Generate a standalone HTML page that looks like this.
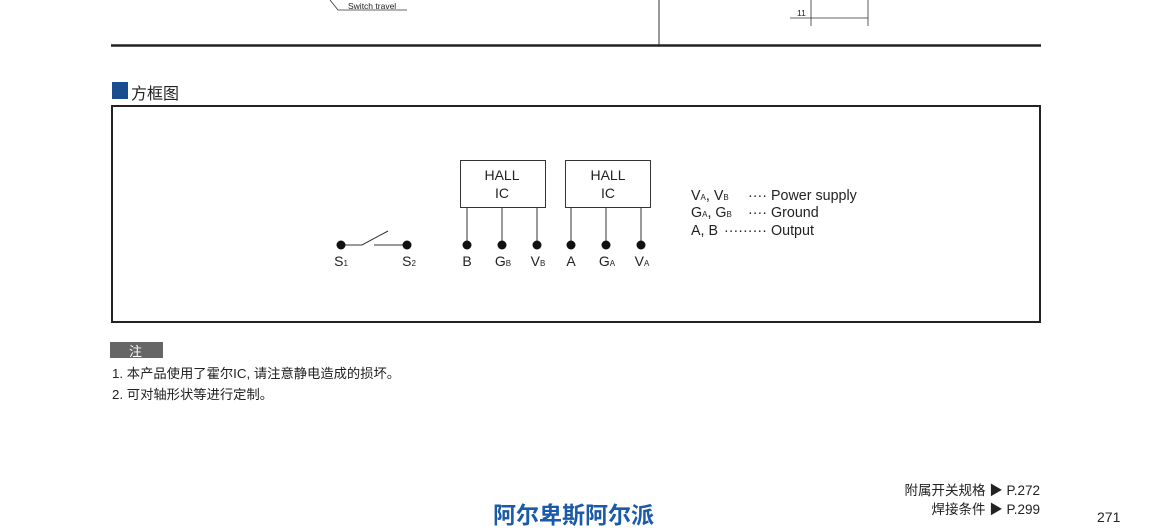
<!DOCTYPE html>
<html><head><meta charset="utf-8"><style>
body{margin:0;width:1150px;height:529px;background:#fff;overflow:hidden;position:relative;font-family:"Liberation Sans","Noto Sans CJK SC",sans-serif;color:#222}
.a{position:absolute;white-space:nowrap}
</style></head><body>
<svg class="a" style="left:0;top:0" width="1150" height="529">
<g stroke="#333" fill="none">
<path d="M330 0 L338 10 L407 10" stroke-width="0.8"/>
<line x1="659" y1="0" x2="659" y2="45" stroke-width="1"/>
<line x1="790" y1="18" x2="868" y2="18" stroke-width="0.8"/>
<line x1="811" y1="0" x2="811" y2="26" stroke-width="0.8"/>
<line x1="868" y1="0" x2="868" y2="26" stroke-width="0.8"/>
<line x1="111" y1="45.5" x2="1041" y2="45.5" stroke="#222" stroke-width="2.5"/>
<rect x="112" y="106" width="928" height="216" stroke="#222" stroke-width="2"/>
<rect x="460.5" y="160.5" width="85" height="47" stroke-width="1"/>
<rect x="565.5" y="160.5" width="85" height="47" stroke-width="1"/>
<path d="M467 207V245M502 207V245M537 207V245M571 207V245M606 207V245M641 207V245" stroke-width="1"/>
<path d="M341 245H362L388 231M374 245H407" stroke-width="1"/>
</g>
<g fill="#111">
<circle cx="341" cy="245" r="4.5"/><circle cx="407" cy="245" r="4.5"/>
<circle cx="467" cy="245" r="4.5"/><circle cx="502" cy="245" r="4.5"/><circle cx="537" cy="245" r="4.5"/>
<circle cx="571" cy="245" r="4.5"/><circle cx="606" cy="245" r="4.5"/><circle cx="641" cy="245" r="4.5"/>
</g>
<rect x="112" y="82" width="16" height="17" fill="#1a4d8f"/>
<rect x="110" y="342" width="53" height="16" fill="#666"/>
<g font-family="Liberation Sans,sans-serif" fill="#222">
<text x="348" y="9" font-size="8.5">Switch travel</text>
<text x="797" y="16" font-size="8.5">11</text>
<g font-size="14" text-anchor="middle">
<text x="502" y="180">HALL</text><text x="502" y="198">IC</text>
<text x="608" y="180">HALL</text><text x="608" y="198">IC</text>
<text x="341" y="266">S<tspan font-size="8">1</tspan></text>
<text x="409" y="266">S<tspan font-size="8">2</tspan></text>
<text x="467" y="266">B</text>
<text x="503" y="266">G<tspan font-size="8">B</tspan></text>
<text x="538" y="266">V<tspan font-size="8">B</tspan></text>
<text x="571" y="266">A</text>
<text x="607" y="266">G<tspan font-size="8">A</tspan></text>
<text x="642" y="266">V<tspan font-size="8">A</tspan></text>
</g>
<g font-size="14.3">
<text x="691" y="200">V<tspan font-size="8">A</tspan>, V<tspan font-size="8">B</tspan></text>
<text x="691" y="217">G<tspan font-size="8">A</tspan>, G<tspan font-size="8">B</tspan></text>
<text x="691" y="235">A, B</text>
<text x="748" y="200">····</text><text x="748" y="217">····</text><text x="724" y="235">·········</text>
<text x="771" y="200">Power supply</text>
<text x="771" y="217">Ground</text>
<text x="771" y="235">Output</text>
</g>
</g>
</svg>
<div class="a" style="left:131px;top:80px;font-size:16px">方框图</div>
<div class="a" style="left:129px;top:341px;font-size:13px;color:#fff">注</div>
<div class="a" style="left:112px;top:363px;font-size:13.3px">1. 本产品使用了霍尔IC, 请注意静电造成的损坏。</div>
<div class="a" style="left:112px;top:384px;font-size:13.3px">2. 可对轴形状等进行定制。</div>
<div class="a" style="right:110px;top:479px;font-size:13.5px;text-align:right">附属开关规格 ▶ P.272</div>
<div class="a" style="right:110px;top:498px;font-size:13.5px;text-align:right">焊接条件 ▶ P.299</div>
<div class="a" style="left:1097px;top:509px;font-size:14px">271</div>
<div class="a" style="left:493px;top:500px;font-size:23px;line-height:30px;font-weight:bold;color:#1a5aa8">阿尔卑斯阿尔派</div>
</body></html>
